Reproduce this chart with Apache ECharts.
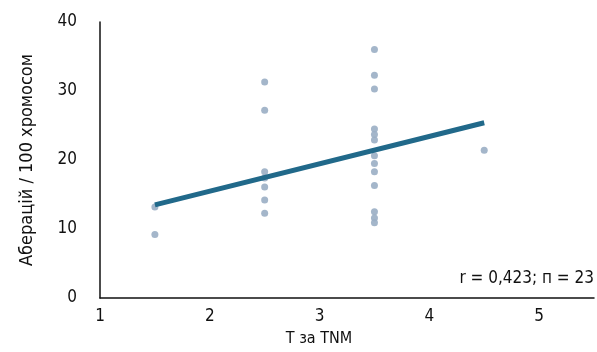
<!DOCTYPE html>
<html>
<head>
<meta charset="utf-8">
<script src="https://cdn.jsdelivr.net/npm/echarts@6/dist/echarts.min.js"></script>
<style>html,body{margin:0;padding:0;background:#fff}#c{width:597px;height:352px}</style>
</head>
<body>
<div id="c"></div>
<script>
// Data
var xT15 = [13.2, 9.2];
var xT25 = [31.3, 27.2, 18.3, 17.4, 16.1, 14.2, 12.3];
var xT35 = [36.0, 32.3, 30.3, 24.5, 23.7, 22.9, 20.6, 19.5, 18.3, 16.3, 12.5, 11.6, 10.9];
var xT45 = [21.4];
var stages = [1.5, 2.5, 3.5, 4.5];
var trendX = [1.5, 4.5];
var trendY = [13.5, 25.4];
var xTicks = [1, 2, 3, 4, 5];
var yTicks = [0, 10, 20, 30, 40];

var groups = [xT15, xT25, xT35, xT45];
var points = [];
groups.forEach(function (g, i) { g.forEach(function (v) { points.push([stages[i], v]); }); });
var trend = trendX.map(function (x, i) { return [x, trendY[i]]; });

var FONT = "'DejaVu Sans Condensed', 'Liberation Sans Narrow', 'Liberation Sans', sans-serif";
var chart = echarts.init(document.getElementById('c'));
chart.setOption({
  animation: false,
  backgroundColor: '#ffffff',
  grid: { left: 100, right: 0, top: 22, bottom: 54 },
  xAxis: {
    type: 'value', min: 1, max: 5.5, interval: 1,
    name: 'Т за TNM', nameLocation: 'middle', nameGap: 33,
    nameTextStyle: { fontFamily: FONT, fontSize: 16, color: '#111', padding: [0, 56, 0, 0] },
    axisLine: { lineStyle: { color: '#111', width: 1.5 } },
    axisTick: { show: false },
    splitLine: { show: false },
    axisLabel: {
      fontFamily: FONT, fontSize: 17, color: '#111', margin: 10,
      formatter: function (v) { return xTicks.indexOf(v) >= 0 ? String(v) : ''; }
    }
  },
  yAxis: {
    type: 'value', min: 0, max: 40, interval: 10,
    name: 'Аберацій / 100 хромосом', nameLocation: 'middle', nameGap: 64,
    nameTextStyle: { fontFamily: FONT, fontSize: 18, color: '#111' },
    axisLine: { show: true, lineStyle: { color: '#111', width: 1.5 } },
    axisTick: { show: false },
    splitLine: { show: false },
    axisLabel: {
      fontFamily: FONT, fontSize: 17, color: '#111', margin: 23, padding: [4, 0, 0, 0],
      formatter: function (v) { return yTicks.indexOf(v) >= 0 ? String(v) : ''; }
    }
  },
  series: [
    {
      type: 'scatter', data: points, symbolSize: 7,
      itemStyle: { color: '#9aaec4', opacity: 0.9 }, z: 2
    },
    {
      type: 'line', data: trend, showSymbol: false, symbol: 'none',
      lineStyle: { color: '#21698a', width: 5 }, z: 3
    }
  ],
  graphic: [{
    type: 'text', right: 3, top: 270,
    style: { text: 'r = 0,423; п = 23', fontFamily: FONT, fontSize: 17, fill: '#111' }
  }]
});
</script>
</body>
</html>
